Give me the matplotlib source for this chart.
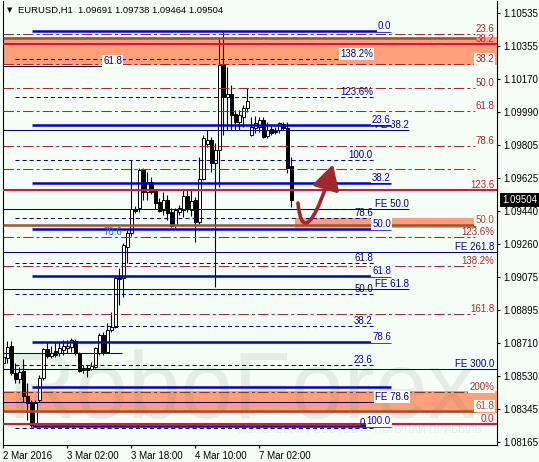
import matplotlib
matplotlib.use('Agg')
import matplotlib.pyplot as plt
import matplotlib.transforms as mtransforms
from matplotlib.patches import FancyArrowPatch
from matplotlib.path import Path

plt.rcParams['font.family'] = ['Liberation Sans', 'DejaVu Sans']
plt.rcParams['lines.scale_dashes'] = False

# EURUSD H1, one bar per hour starting 2 Mar 2016 10:00
opens = [1.08601, 1.08629, 1.08695, 1.08546, 1.08512, 1.08557, 1.08418, 1.08380, 1.08269, 1.08396,
         1.08518, 1.08679, 1.08640, 1.08667, 1.08656, 1.08673, 1.08684, 1.08690, 1.08723, 1.08656,
         1.08562, 1.08573, 1.08568, 1.08579, 1.08656, 1.08756, 1.08662, 1.08784, 1.08800, 1.09076,
         1.09071, 1.09243, 1.09320, 1.09453, 1.09459, 1.09669, 1.09547, 1.09603, 1.09558, 1.09492,
         1.09448, 1.09503, 1.09437, 1.09364, 1.09437, 1.09448, 1.09525, 1.09448, 1.09503, 1.09381,
         1.09619, 1.09813, 1.09835, 1.09708, 1.09780, 1.10250, 1.10073, 1.10090, 1.09979, 1.09935,
         1.09962, 1.10012, 1.09863, 1.09901, 1.09907, 1.09946, 1.09857, 1.09896, 1.09885, 1.09890,
         1.09924, 1.09901, 1.09691]
highs = [1.08756, 1.08723, 1.08723, 1.08601, 1.08579, 1.08623, 1.08490, 1.08396, 1.08396, 1.08535,
         1.08684, 1.08712, 1.08695, 1.08712, 1.08717, 1.08728, 1.08728, 1.08739, 1.08734, 1.08662,
         1.08590, 1.08590, 1.08607, 1.08690, 1.08767, 1.08773, 1.08823, 1.08884, 1.09076, 1.09126,
         1.09265, 1.09337, 1.09725, 1.09470, 1.09680, 1.09680, 1.09658, 1.09630, 1.09564, 1.09514,
         1.09547, 1.09531, 1.09459, 1.09459, 1.09475, 1.09558, 1.09564, 1.09558, 1.09520, 1.09741,
         1.09863, 1.09890, 1.09852, 1.09819, 1.10394, 1.10433, 1.10239, 1.10140, 1.10001, 1.10001,
         1.10029, 1.10123, 1.09962, 1.09968, 1.09962, 1.09962, 1.09935, 1.09912, 1.09907, 1.09935,
         1.09935, 1.09935, 1.09738]
lows = [1.08562, 1.08601, 1.08535, 1.08490, 1.08490, 1.08385, 1.08285, 1.08246, 1.08246, 1.08385,
        1.08507, 1.08629, 1.08629, 1.08634, 1.08640, 1.08645, 1.08656, 1.08662, 1.08645, 1.08551,
        1.08546, 1.08523, 1.08562, 1.08573, 1.08645, 1.08645, 1.08656, 1.08773, 1.08795, 1.08922,
        1.08967, 1.09154, 1.09303, 1.09431, 1.09437, 1.09503, 1.09503, 1.09536, 1.09453, 1.09437,
        1.09420, 1.09392, 1.09353, 1.09342, 1.09420, 1.09409, 1.09437, 1.09414, 1.09270, 1.09370,
        1.09614, 1.09796, 1.09658, 1.09022, 1.09575, 1.09863, 1.09890, 1.09890, 1.09890, 1.09890,
        1.09907, 1.09990, 1.09857, 1.09874, 1.09879, 1.09846, 1.09846, 1.09863, 1.09868, 1.09874,
        1.09890, 1.09652, 1.09464]
closes = [1.08634, 1.08690, 1.08546, 1.08512, 1.08551, 1.08418, 1.08380, 1.08258, 1.08380, 1.08518,
          1.08679, 1.08640, 1.08656, 1.08645, 1.08684, 1.08695, 1.08695, 1.08728, 1.08656, 1.08557,
          1.08573, 1.08562, 1.08584, 1.08684, 1.08756, 1.08662, 1.08784, 1.08800, 1.09071, 1.09065,
          1.09254, 1.09320, 1.09453, 1.09442, 1.09669, 1.09547, 1.09603, 1.09547, 1.09486, 1.09442,
          1.09503, 1.09431, 1.09359, 1.09448, 1.09459, 1.09525, 1.09459, 1.09497, 1.09381, 1.09619,
          1.09846, 1.09835, 1.09708, 1.09780, 1.10250, 1.10073, 1.10090, 1.09973, 1.09935, 1.09973,
          1.10012, 1.10051, 1.09907, 1.09929, 1.09946, 1.09852, 1.09890, 1.09874, 1.09879, 1.09929,
          1.09901, 1.09680, 1.09504]

time_ticks = [0, 16, 32, 48, 64]
time_labels = ['2 Mar 2016', '3 Mar 02:00', '3 Mar 18:00', '4 Mar 10:00', '7 Mar 02:00']
price_ticks = [1.10535, 1.10355, 1.10170, 1.09990, 1.09805, 1.09625, 1.09440,
               1.09260, 1.09075, 1.08895, 1.08710, 1.08530, 1.08345, 1.08165]

# thick blue retracement
blue_levels = [1.10440, 1.09920, 1.09599, 1.09342, 1.09082, 1.08717, 1.08470, 1.08252]
blue_labels = ['0.0', '23.6', '38.2', '50.0', '61.8', '78.6', '', '100.0']
# dashed navy retracement
navy_levels = [1.10285, 1.10071, 1.09723, 1.09403, 1.09153, 1.08981, 1.08806, 1.08590, 1.08243]
navy_labels = ['138.2%', '123.6%', '100.0', '78.6', '61.8', '50.0', '38.2', '23.6', '0.0']
# expansion lines
fe_levels = [1.09890, 1.09452, 1.09009, 1.08383]
fe_labels = ['FE 38.2', 'FE 50.0', 'FE 61.8', 'FE 78.6']
fe_long_levels = [1.09214, 1.08566]
fe_long_labels = ['FE 261.8', 'FE 300.0']
short_levels = [1.10246, 1.08654]
# dash-dot red grid
red_levels = [1.10422, 1.10254, 1.10121, 1.09996, 1.09802, 1.09673, 1.09297, 1.09136, 1.08870, 1.08442]
red_labels = ['23.6', '38.2', '50.0', '61.8', '78.6', '', '123.6%', '138.2%', '161.8', '200%']
crimson_levels = [1.10365, 1.09560, 1.08263]
crimson_labels = ['38.2', '123.6', '0.0']
brown_levels = [1.10401, 1.09365, 1.08337]
brown_labels = ['', '50.0', '61.8']
# salmon zones
zone_lows = [1.10250, 1.09347, 1.08324]
zone_highs = [1.10404, 1.09403, 1.08446]
zone_starts = [-1, 72.9, -1]
zone_ends = [130, 118.3, 130]

last_price = 1.09504
title = 'EURUSD,H1  1.09691 1.09738 1.09464 1.09504'

BG = '#F5FFF8'
BLUE = '#0000CD'
NAVY = '#000080'
RED = '#A52A2A'
CRIMSON = '#DC143C'
BROWN = '#A0522D'
SALMON = '#FFA07A'
FS = 7

fig = plt.figure(figsize=(5.39, 4.62), dpi=100, facecolor=BG)
ax = fig.add_axes([3 / 539, 1 - 445 / 462, 494 / 539, 444 / 462])
ax.set_facecolor(BG)
X_MIN, X_MAX = -0.075, 123.43
ax.set_xlim(X_MIN, X_MAX)
ax.set_ylim(1.08147, 1.10604)

# zones (background)
for lo, hi, x0, x1 in zip(zone_lows, zone_highs, zone_starts, zone_ends):
    ax.fill_between([x0, x1], lo, hi, color=SALMON, lw=0, zorder=1)

# watermark
ax.text(0.482, 0.061, 'RoboForex', transform=ax.transAxes, fontsize=68,
        color='#607070', alpha=0.12, ha='center', va='baseline', zorder=1.5)
ax.text(0.723, 0.027, 'ИСПОЛЬЗУЙ РОБОТОВ — ПОЛУЧАЙ ПРИБЫЛЬ', transform=ax.transAxes,
        fontsize=7.7, color='#607070', alpha=0.12, ha='center', va='baseline', zorder=1.5)

# candles
idx = list(range(len(opens)))
ax.vlines(idx, lows, highs, color='black', lw=0.8, zorder=2)
for i in idx:
    o, c = opens[i], closes[i]
    bottom = min(o, c)
    h = max(abs(c - o), 0.000015)
    ax.bar(i, h, bottom=bottom, width=0.75, color='white' if c >= o else 'black',
           edgecolor='black', lw=0.7, zorder=2.1)

RIGHT = 122.7


def tag(x, y, s, color, bg=False, ha='right'):
    box = dict(facecolor='white', edgecolor='none', pad=0.6) if bg else None
    ax.text(x, y, s, color=color, fontsize=FS, ha=ha, va='bottom', bbox=box,
            zorder=6 if bg else 5)


# dash-dot red
for lv, lb in zip(red_levels, red_labels):
    ax.hlines(lv, X_MIN, 117.9, color=RED, lw=0.75, linestyles=[(0, (7.5, 2.2, 2.2, 2.2))], zorder=3)
    if lb:
        tag(RIGHT, lv, lb, RED, bg=lb in ('38.2', '200%'))

# thin navy expansion
for lv, lb in zip(fe_levels, fe_labels):
    ax.hlines(lv, X_MIN, 101.4, color=NAVY, lw=0.75, zorder=3)
    tag(101.4, lv, lb, NAVY, bg=lb == 'FE 78.6')
for lv, lb in zip(fe_long_levels, fe_long_labels):
    ax.hlines(lv, X_MIN, X_MAX, color=NAVY, lw=0.75, zorder=3)
    tag(RIGHT, lv, lb, NAVY)
for lv in short_levels:
    ax.hlines(lv, X_MIN, 29.7, color=NAVY, lw=0.75, zorder=3)
tag(29.7, short_levels[0], '61.8', NAVY, bg=True)
tag(29.7, 1.09300, '78.6', '#3A5BD0')

# dashed navy
for lv, lb in zip(navy_levels, navy_labels):
    ax.hlines(lv, 2.9, 92.4, color=NAVY, lw=0.75, linestyles=[(0, (2.9, 2.2))], zorder=3)
    tag(92.4, lv, lb, NAVY, bg=lb == '138.2%')

# crimson and brown
for lv, lb in zip(crimson_levels, crimson_labels):
    ax.hlines(lv, X_MIN, X_MAX, color=CRIMSON, lw=1.5, zorder=3.1)
    tag(RIGHT, lv, lb, CRIMSON)
for lv, lb in zip(brown_levels, brown_labels):
    ax.hlines(lv, X_MIN, 118.3, color=BROWN, lw=1.8, zorder=3.1)
    if lb:
        tag(RIGHT, lv, lb, BROWN, bg=True)

# thick blue
for lv, lb in zip(blue_levels, blue_labels):
    ax.hlines(lv, 7.1, 96.9, color=BLUE, lw=1.8, zorder=3.2)
    if lb:
        tag(96.9, lv, lb, BLUE, bg=True)

# arrow
arrow_x = [73.68, 74.68, 78.68, 82.43]
arrow_y = [1.09486, 1.09254, 1.09420, 1.09700]
arrow_path = Path(list(zip(arrow_x, arrow_y)),
                  [Path.MOVETO, Path.CURVE4, Path.CURVE4, Path.CURVE4])
ax.add_patch(FancyArrowPatch(path=arrow_path, arrowstyle='-|>,head_length=1.0,head_width=0.55',
                             mutation_scale=15, color='#A3262A', lw=2.6, zorder=7,
                             shrinkA=0, shrinkB=0))

# axes styling
for s in ax.spines.values():
    s.set_color('black')
    s.set_linewidth(0.8)
ax.spines['top'].set_visible(False)
ax.yaxis.tick_right()
ax.set_yticks(price_ticks)
ax.set_yticklabels([f'{p:.5f}' for p in price_ticks])
ax.tick_params(axis='y', direction='out', length=2.5, width=0.8, pad=2, labelsize=FS)
ax.set_xticks(time_ticks)
ax.set_xticklabels(time_labels)
ax.tick_params(axis='x', direction='out', length=2.5, width=0.8, pad=2, labelsize=FS)
for t in ax.get_xticklabels():
    t.set_ha('left')

# last price marker
trans = mtransforms.blended_transform_factory(ax.transAxes, ax.transData)
ax.text(1.0101, last_price, f'{last_price:.5f}', transform=trans, color='white', fontsize=FS,
        ha='left', va='center', clip_on=False, zorder=8,
        bbox=dict(facecolor='black', edgecolor='none', pad=1.4))

# header
fig.text(9.5 / 539, 1 - 10 / 462, '▼', fontsize=5, ha='center', va='center',
         family='DejaVu Sans')
fig.text(18 / 539, 1 - 10 / 462, title, fontsize=6.8, ha='left', va='center')

fig.savefig('out.png', dpi=100, facecolor=BG)
